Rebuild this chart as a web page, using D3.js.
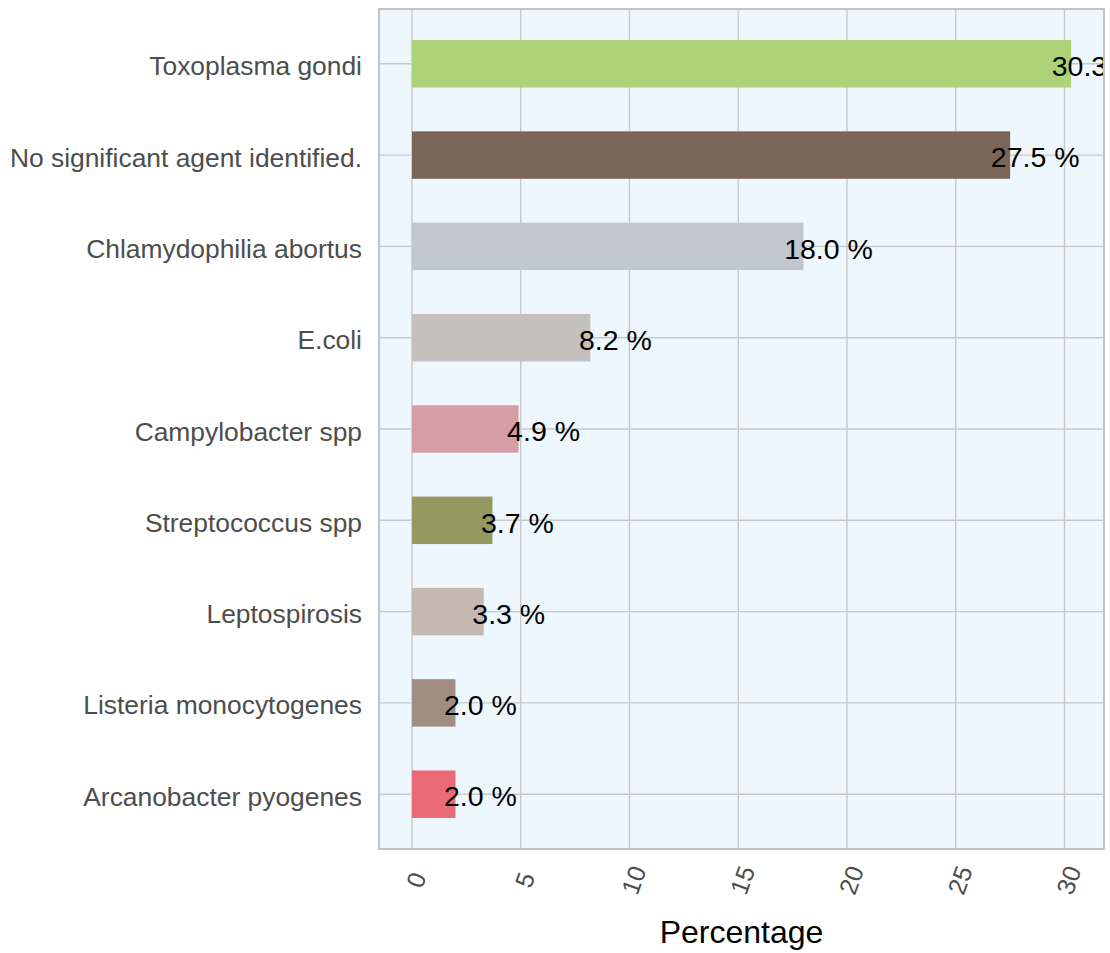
<!DOCTYPE html>
<html>
<head>
<meta charset="utf-8">
<script src="https://cdn.jsdelivr.net/npm/d3@7"></script>
<style>
  body { margin: 0; background: #fff; }
  text { font-family: "Liberation Sans", Arial, sans-serif; }
</style>
</head>
<body>
<script>
'use strict';

// data
const agents = ["Toxoplasma gondi", "No significant agent identified.", "Chlamydophilia abortus",
  "E.coli", "Campylobacter spp", "Streptococcus spp", "Leptospirosis",
  "Listeria monocytogenes", "Arcanobacter pyogenes"];
const percents = [30.3, 27.5, 18.0, 8.2, 4.9, 3.7, 3.3, 2.0, 2.0];
const barColors = ["#AED277", "#7A6556", "#C1C7CE", "#C3C0BD", "#D69DA4",
  "#93995F", "#C3B9AE", "#A08E82", "#E96B78"];
const xTicks = [0, 5, 10, 15, 20, 25, 30];

(function() {

  // panel box
  const W = 1110, H = 953;
  const pLeft = 379, pRight = 1104, pTop = 9, pBottom = 849;

  let svg = d3.select('body').append('svg')
    .attr('width', W)
    .attr('height', H);

  // x scale with ggplot-style 5% expansion
  let maxV = d3.max(percents);
  let x = d3.scaleLinear()
    .domain([-0.05 * maxV, maxV * 1.05])
    .range([pLeft, pRight]);

  // discrete y with 0.6 expansion on each side
  let y = d3.scalePoint()
    .domain(agents)
    .range([pTop, pBottom])
    .padding(0.6);
  let barH = y.step() * 0.52;

  // panel background
  svg.append('rect')
    .attr('x', pLeft).attr('y', pTop)
    .attr('width', pRight - pLeft).attr('height', pBottom - pTop)
    .attr('fill', '#EEF6FE');

  svg.append('clipPath').attr('id', 'panel-clip')
    .append('rect')
    .attr('x', pLeft).attr('y', pTop)
    .attr('width', pRight - pLeft).attr('height', pBottom - pTop);

  // grid lines
  let grid = svg.append('g');
  grid.selectAll('.vgrid')
    .data(xTicks)
    .enter().append('line')
    .attr('x1', d => x(d)).attr('x2', d => x(d))
    .attr('y1', pTop).attr('y2', pBottom)
    .attr('stroke', '#C9C9C9').attr('stroke-width', 1.4);
  grid.selectAll('.hgrid')
    .data(agents)
    .enter().append('line')
    .attr('x1', pLeft).attr('x2', pRight)
    .attr('y1', d => y(d)).attr('y2', d => y(d))
    .attr('stroke', '#C9C9C9').attr('stroke-width', 1.4);

  let plot = svg.append('g').attr('clip-path', 'url(#panel-clip)');

  // bars
  plot.selectAll('.bar')
    .data(agents)
    .enter().append('rect')
    .attr('x', x(0))
    .attr('y', d => y(d) - barH / 2)
    .attr('width', (d, i) => x(percents[i]) - x(0))
    .attr('height', barH)
    .attr('fill', (d, i) => barColors[i]);

  // value labels, centred a little past the bar end (clipped by the panel, as in the original)
  plot.selectAll('.lbl')
    .data(agents)
    .enter().append('text')
    .attr('x', (d, i) => x(percents[i] + 1.15))
    .attr('y', d => y(d) + 2)
    .attr('dy', '0.36em')
    .attr('text-anchor', 'middle')
    .style('font-size', '28.5px')
    .attr('fill', '#000')
    .text((d, i) => percents[i].toFixed(1) + ' %');

  // panel border
  svg.append('rect')
    .attr('x', pLeft).attr('y', pTop)
    .attr('width', pRight - pLeft).attr('height', pBottom - pTop)
    .attr('fill', 'none')
    .attr('stroke', '#C4C4C4').attr('stroke-width', 2);

  // y axis labels
  svg.selectAll('.ylab')
    .data(agents)
    .enter().append('text')
    .attr('x', pLeft - 17)
    .attr('y', d => y(d) + 2)
    .attr('dy', '0.36em')
    .attr('text-anchor', 'end')
    .style('font-size', '26.4px')
    .attr('fill', '#4D4D4D')
    .text(d => d);

  // x tick labels, rotated
  svg.selectAll('.xlab')
    .data(xTicks)
    .enter().append('text')
    .attr('transform', d => 'translate(' + (x(d) + 4) + ',880)rotate(-70)')
    .attr('dy', '0.36em')
    .attr('text-anchor', 'middle')
    .style('font-size', '25px')
    .attr('fill', '#4D4D4D')
    .text(d => d);

  // axis title
  svg.append('text')
    .attr('x', (pLeft + pRight) / 2)
    .attr('y', 943)
    .attr('text-anchor', 'middle')
    .style('font-size', '32px')
    .attr('fill', '#000')
    .text('Percentage');

})();
</script>
</body>
</html>
